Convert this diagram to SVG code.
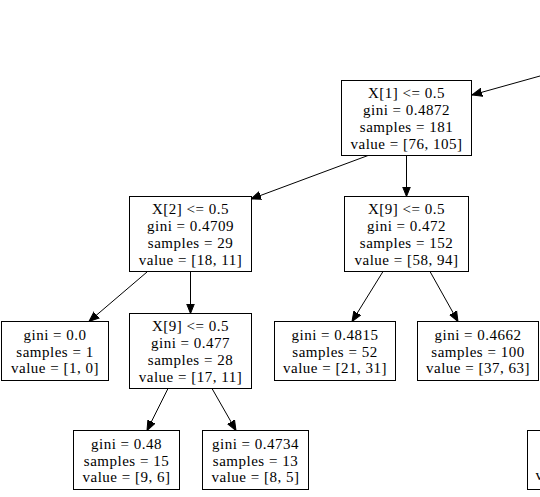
<svg xmlns="http://www.w3.org/2000/svg" width="540" height="497" viewBox="0 0 540 497">
<style>
.box{fill:#fff;stroke:#000;stroke-width:1}
.t{font-family:"Liberation Serif","Times New Roman",serif;font-size:15px;letter-spacing:0.5px;fill:#000;text-anchor:middle}
.e{stroke:#000;stroke-width:1;fill:none;marker-end:url(#ah)}
</style>
<defs>
<marker id="ah" markerUnits="userSpaceOnUse" markerWidth="12" markerHeight="10" refX="10" refY="4" orient="auto" viewBox="0 0 12 8">
<path d="M0,0 L10,4 L0,8 z" fill="#000" stroke="#000" stroke-width="1"/>
</marker>
</defs>
<rect width="540" height="497" fill="#fff"/>
<g id="edges">
<path class="e" d="M540,76 L472,95"/>
<path class="e" d="M368,155.5 L251,199"/>
<path class="e" d="M406.5,155.5 L406.5,196.5"/>
<path class="e" d="M147,272 L89,321.5"/>
<path class="e" d="M190.5,271.5 L190.5,313.5"/>
<path class="e" d="M383,271.5 L352,321.5"/>
<path class="e" d="M430,271.5 L458,321.5"/>
<path class="e" d="M168,388.5 L147,430.5"/>
<path class="e" d="M212,388.5 L236,430.5"/>
</g>
<g id="n0">
<rect class="box" x="341.5" y="80.5" width="130" height="75"/>
<text class="t" x="406.5" y="98.3">X[1] &lt;= 0.5</text>
<text class="t" x="406.5" y="115.1">gini = 0.4872</text>
<text class="t" x="406.5" y="131.9">samples = 181</text>
<text class="t" x="406.5" y="148.7">value = [76, 105]</text>
</g>
<g id="n1">
<rect class="box" x="129.5" y="196.5" width="122" height="75"/>
<text class="t" x="190.5" y="214.3">X[2] &lt;= 0.5</text>
<text class="t" x="190.5" y="231.1">gini = 0.4709</text>
<text class="t" x="190.5" y="247.9">samples = 29</text>
<text class="t" x="190.5" y="264.7">value = [18, 11]</text>
</g>
<g id="n2">
<rect class="box" x="344.5" y="196.5" width="124" height="75"/>
<text class="t" x="406.5" y="214.3">X[9] &lt;= 0.5</text>
<text class="t" x="406.5" y="231.1">gini = 0.472</text>
<text class="t" x="406.5" y="247.9">samples = 152</text>
<text class="t" x="406.5" y="264.7">value = [58, 94]</text>
</g>
<g id="n3">
<rect class="box" x="1.5" y="321.5" width="107" height="59"/>
<text class="t" x="55" y="339.7">gini = 0.0</text>
<text class="t" x="55" y="356.5">samples = 1</text>
<text class="t" x="55" y="373.3">value = [1, 0]</text>
</g>
<g id="n4">
<rect class="box" x="129.5" y="313.5" width="122" height="75"/>
<text class="t" x="190.5" y="331.3">X[9] &lt;= 0.5</text>
<text class="t" x="190.5" y="348.1">gini = 0.477</text>
<text class="t" x="190.5" y="364.9">samples = 28</text>
<text class="t" x="190.5" y="381.7">value = [17, 11]</text>
</g>
<g id="n5">
<rect class="box" x="274.5" y="321.5" width="121" height="59"/>
<text class="t" x="335" y="339.7">gini = 0.4815</text>
<text class="t" x="335" y="356.5">samples = 52</text>
<text class="t" x="335" y="373.3">value = [21, 31]</text>
</g>
<g id="n6">
<rect class="box" x="417.5" y="321.5" width="121" height="59"/>
<text class="t" x="478" y="339.7">gini = 0.4662</text>
<text class="t" x="478" y="356.5">samples = 100</text>
<text class="t" x="478" y="373.3">value = [37, 63]</text>
</g>
<g id="n7">
<rect class="box" x="73.5" y="430.5" width="106" height="59"/>
<text class="t" x="126.5" y="448.7">gini = 0.48</text>
<text class="t" x="126.5" y="465.5">samples = 15</text>
<text class="t" x="126.5" y="482.3">value = [9, 6]</text>
</g>
<g id="n8">
<rect class="box" x="202.5" y="430.5" width="106" height="59"/>
<text class="t" x="255.5" y="448.7">gini = 0.4734</text>
<text class="t" x="255.5" y="465.5">samples = 13</text>
<text class="t" x="255.5" y="482.3">value = [8, 5]</text>
</g>
<g id="n9">
<rect class="box" x="527.5" y="430.5" width="100" height="59"/>
<text class="t" x="535.5" y="480" style="text-anchor:start">v</text>
</g>
</svg>
